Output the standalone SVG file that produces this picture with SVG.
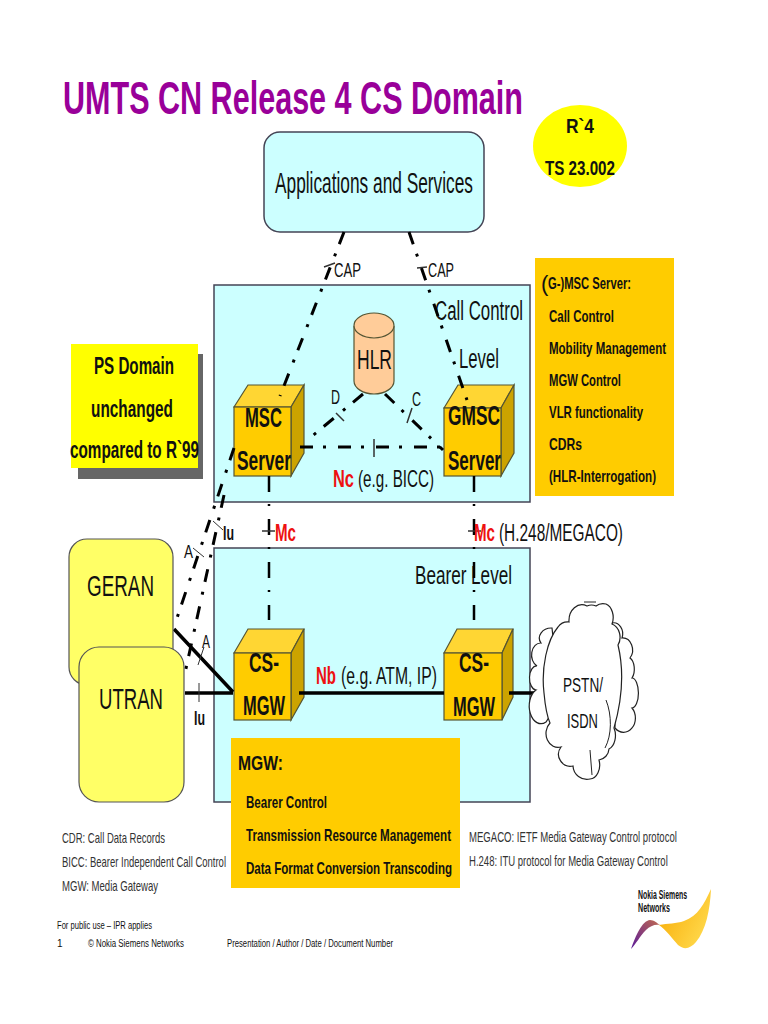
<svg xmlns="http://www.w3.org/2000/svg" width="768" height="1024" viewBox="0 0 768 1024">
<style>
text{font-family:"Liberation Sans",Arial,sans-serif;fill:#111;}
.b{font-weight:bold}
.box{fill:#ccffff;stroke:#445;stroke-width:1.5}
.front{fill:#ffcc00;stroke:#553;stroke-width:1.2}
.top{fill:#ffd633;stroke:#553;stroke-width:1.2}
.side{fill:#cca300;stroke:#553;stroke-width:1.2}
.ran{fill:#ffff66;stroke:#555;stroke-width:1.2}
.dd{fill:none;stroke:#000;stroke-width:3;stroke-dasharray:13 10 3 12}
.mc{fill:none;stroke:#000;stroke-width:2.500;stroke-dasharray:16 12 2 13}
.solid{fill:none;stroke:#000;stroke-width:3.500}
.tick{fill:none;stroke:#333;stroke-width:1}
.cloud{fill:#fff;stroke:#222;stroke-width:1.200}
.g{fill:#333}
.r{fill:#ee1111;font-weight:bold}
</style>
<defs>
<linearGradient id="w1" x1="0" y1="1" x2="1" y2="0"><stop offset="0" stop-color="#5a1a9a"/><stop offset="1" stop-color="#c06a50"/></linearGradient>
<linearGradient id="w2" x1="0" y1="0" x2="1" y2="0.6"><stop offset="0" stop-color="#f7a800"/><stop offset="1" stop-color="#ffd84a"/></linearGradient>
</defs>
<text class="b" x="63" y="114" font-size="46" textLength="460" lengthAdjust="spacingAndGlyphs" style="fill:#990099">UMTS CN Release 4 CS Domain</text>
<g id="level-call"><rect class="box" x="214" y="285" width="316" height="217"/>
<text x="435" y="320" font-size="27" textLength="88" lengthAdjust="spacingAndGlyphs">Call Control</text>
<text x="459" y="368" font-size="27" textLength="40" lengthAdjust="spacingAndGlyphs">Level</text></g>
<g id="level-bearer"><rect class="box" x="214" y="548" width="316" height="254"/>
<text x="415" y="584" font-size="26" textLength="97" lengthAdjust="spacingAndGlyphs">Bearer Level</text></g>
<g id="apps"><rect class="box" x="264" y="132" width="220" height="100" rx="16"/>
<text x="275" y="193" font-size="30" textLength="198" lengthAdjust="spacingAndGlyphs">Applications and Services</text></g>
<g id="release"><ellipse cx="580" cy="146" rx="47" ry="41" fill="#ffff00"/>
<text class="b" x="566" y="133" font-size="21" textLength="28" lengthAdjust="spacingAndGlyphs">R`4</text>
<text class="b" x="545" y="175" font-size="21" textLength="70" lengthAdjust="spacingAndGlyphs">TS 23.002</text></g>
<g id="msc-info"><rect x="535" y="258" width="139" height="238" fill="#ffcc00"/>
<text x="541" y="291" font-size="22">(</text>
<text class="b" x="548" y="289" font-size="17" textLength="83" lengthAdjust="spacingAndGlyphs">G-)MSC Server:</text>
<g font-size="17">
<text class="b" x="549" y="322" textLength="65" lengthAdjust="spacingAndGlyphs">Call Control</text>
<text class="b" x="549" y="354" textLength="117" lengthAdjust="spacingAndGlyphs">Mobility Management</text>
<text class="b" x="549" y="386" textLength="72" lengthAdjust="spacingAndGlyphs">MGW Control</text>
<text class="b" x="549" y="418" textLength="94" lengthAdjust="spacingAndGlyphs">VLR functionality</text>
<text class="b" x="549" y="450" textLength="33" lengthAdjust="spacingAndGlyphs">CDRs</text>
<text class="b" x="549" y="482" textLength="107" lengthAdjust="spacingAndGlyphs">(HLR-Interrogation)</text></g></g>
<g id="ps-domain"><rect x="78" y="354" width="125" height="125" fill="#666"/><rect x="71" y="344" width="127" height="124" fill="#ffff00"/>
<g font-size="23">
<text class="b" x="94" y="374" textLength="80" lengthAdjust="spacingAndGlyphs">PS Domain</text>
<text class="b" x="91" y="417" textLength="82" lengthAdjust="spacingAndGlyphs">unchanged</text>
<text class="b" x="70" y="458" textLength="129" lengthAdjust="spacingAndGlyphs">compared to R`99</text></g></g>
<g id="hlr"><path d="M354 326V381C354 388 363 394 374 394S394 388 394 381V326" fill="#ffcc99" stroke="#553" stroke-width="1.2"/>
<ellipse cx="374" cy="325.500" rx="20" ry="12.500" fill="#ffcc99" stroke="#553" stroke-width="1.2"/>
<text x="357" y="369" font-size="28" textLength="35" lengthAdjust="spacingAndGlyphs">HLR</text></g>
<g id="msc"><path class="top" d="M234 407L248 385H304L291 407Z"/><path class="side" d="M291 407L304 385V453L291 476Z"/><rect class="front" x="234" y="407" width="57" height="69"/></g>
<g id="gmsc"><path class="top" d="M444 408L458 385H514L501 408Z"/><path class="side" d="M501 408L514 385V453L501 476Z"/><rect class="front" x="444" y="408" width="57" height="68"/></g>
<g id="mgw1"><path class="top" d="M234 653L248 629H304L291 653Z"/><path class="side" d="M291 653L304 629V697L291 720Z"/><rect class="front" x="234" y="653" width="57" height="67"/></g>
<g id="mgw2"><path class="top" d="M444 653L457 629H513L502 653Z"/><path class="side" d="M502 653L513 629V697L502 720Z"/><rect class="front" x="444" y="653" width="58" height="67"/></g>
<g id="connectors">
<path class="dd" d="M344 232L280 396"/>
<path class="dd" d="M409 232L467 400"/>
<path class="dd" d="M363 394L305 442"/>
<path class="dd" d="M385 394L443 450"/>
<path class="dd" d="M300 447H443"/>
<path class="mc" d="M269 476V620"/>
<path class="mc" d="M474 476V620"/>
<path class="dd" d="M234 448L177 618"/>
<path class="dd" d="M224 495L185 673"/>
<path class="solid" d="M174 629L233 692M185 693H233M299 693H444M509 693H544"/>
<path class="tick" style="stroke-width:1.500" d="M324 267L335 263M417 268L427 267M336 413L344 421M407 423L412 408M374 439V457M262 531H275M468 531H481"/>
<path class="tick" d="M213 521L223 530M193 548L204 557M198 665L204 647M199 683V702"/>
</g>
<g id="geran"><rect class="ran" x="69" y="539" width="104" height="146" rx="18"/>
<text x="87" y="596" font-size="30" textLength="67" lengthAdjust="spacingAndGlyphs">GERAN</text></g>
<g id="utran"><rect class="ran" x="79" y="647" width="105" height="155" rx="20"/>
<text x="99" y="709" font-size="30" textLength="64" lengthAdjust="spacingAndGlyphs">UTRAN</text></g>
<g id="pstn">
<path class="cloud" d="M612 623A9 11 0 0 1 622 638A10 12 0 0 1 630 658A7 12 0 0 1 632 678A6 14 0 0 1 632 708A10 12 0 0 1 615 728Z"/>
<path class="cloud" d="M552 628A12 10 0 0 0 541 643A9 12 0 0 0 537 666A7 12 0 0 0 536 690A8 12 0 0 0 546 722L560 700Z"/>
<path class="cloud" d="M544 693C541 668 547 640 558 627A12 12 0 0 1 569 622A13 16 0 0 1 587 606A10 9 0 0 1 596 606A10 8 0 0 1 606 604A10 14 0 0 1 612 624A12 14 0 0 1 618 645C624 670 622 700 614 728A9 14 0 0 1 609 749A12 12 0 0 1 599 760A10 14 0 0 1 590 779A14 14 0 0 1 573 766A12 12 0 0 1 561 747A12 14 0 0 1 550 723C546 714 545 704 544 693Z"/>
<path d="M584 602H596M606 700C612 715 612 735 605 748M590 750L592 775" fill="none" stroke="#222" stroke-width="1"/>
<text x="563" y="692" font-size="20" textLength="40" lengthAdjust="spacingAndGlyphs">PSTN/</text>
<text x="567" y="728" font-size="20" textLength="31" lengthAdjust="spacingAndGlyphs">ISDN</text></g>
<g id="mgw-info"><rect x="231" y="738" width="229" height="150" fill="#ffcc00"/>
<text class="b" x="238" y="770" font-size="21" textLength="45" lengthAdjust="spacingAndGlyphs">MGW:</text>
<g font-size="17">
<text class="b" x="246" y="808" textLength="81" lengthAdjust="spacingAndGlyphs">Bearer Control</text>
<text class="b" x="246" y="841" textLength="205" lengthAdjust="spacingAndGlyphs">Transmission Resource Management</text>
<text class="b" x="246" y="874" textLength="206" lengthAdjust="spacingAndGlyphs">Data Format Conversion Transcoding</text></g></g>
<g id="labels">
<text class="b" x="245" y="427" font-size="27" textLength="37" lengthAdjust="spacingAndGlyphs">MSC</text>
<text class="b" x="237" y="470" font-size="27" textLength="54" lengthAdjust="spacingAndGlyphs">Server</text>
<text class="b" x="448" y="425" font-size="27" textLength="52" lengthAdjust="spacingAndGlyphs">GMSC</text>
<text class="b" x="448" y="470" font-size="27" textLength="53" lengthAdjust="spacingAndGlyphs">Server</text>
<text class="b" x="249" y="672" font-size="27" textLength="30" lengthAdjust="spacingAndGlyphs">CS-</text>
<text class="b" x="243" y="715" font-size="27" textLength="42" lengthAdjust="spacingAndGlyphs">MGW</text>
<text class="b" x="459" y="672" font-size="27" textLength="30" lengthAdjust="spacingAndGlyphs">CS-</text>
<text class="b" x="453" y="716" font-size="27" textLength="42" lengthAdjust="spacingAndGlyphs">MGW</text>
<text x="334" y="277" font-size="20" textLength="27" lengthAdjust="spacingAndGlyphs">CAP</text>
<text x="428" y="277" font-size="20" textLength="26" lengthAdjust="spacingAndGlyphs">CAP</text>
<text x="331" y="404" font-size="20" textLength="9" lengthAdjust="spacingAndGlyphs">D</text>
<text x="412" y="406" font-size="20" textLength="9" lengthAdjust="spacingAndGlyphs">C</text>
<text class="r" x="333" y="487" font-size="24" textLength="21" lengthAdjust="spacingAndGlyphs">Nc</text>
<text x="358" y="487" font-size="24" textLength="76" lengthAdjust="spacingAndGlyphs">(e.g. BICC)</text>
<text class="b" x="223" y="540" font-size="20" textLength="11" lengthAdjust="spacingAndGlyphs">Iu</text>
<text x="184" y="558" font-size="18" textLength="9" lengthAdjust="spacingAndGlyphs">A</text>
<text x="202" y="648" font-size="18" textLength="8" lengthAdjust="spacingAndGlyphs">A</text>
<text class="b" x="194" y="725" font-size="20" textLength="11" lengthAdjust="spacingAndGlyphs">Iu</text>
<text class="r" x="275" y="541" font-size="23" textLength="21" lengthAdjust="spacingAndGlyphs">Mc</text>
<text class="r" x="474" y="541" font-size="23" textLength="21" lengthAdjust="spacingAndGlyphs">Mc</text>
<text x="499" y="541" font-size="23" textLength="124" lengthAdjust="spacingAndGlyphs">(H.248/MEGACO)</text>
<text class="r" x="316" y="684" font-size="23" textLength="20" lengthAdjust="spacingAndGlyphs">Nb</text>
<text x="341" y="684" font-size="23" textLength="96" lengthAdjust="spacingAndGlyphs">(e.g. ATM, IP)</text>
</g>
<g id="notes" font-size="15">
<text class="g" x="62" y="843" textLength="103" lengthAdjust="spacingAndGlyphs">CDR: Call Data Records</text>
<text class="g" x="62" y="867" textLength="164" lengthAdjust="spacingAndGlyphs">BICC: Bearer Independent Call Control</text>
<text class="g" x="62" y="891" textLength="96" lengthAdjust="spacingAndGlyphs">MGW: Media Gateway</text>
<text class="g" transform="translate(469 842) scale(.7 1)" textLength="297" lengthAdjust="spacingAndGlyphs">MEGACO: IETF Media Gateway Control protocol</text>
<text class="g" transform="translate(469 866) scale(.7 1)" textLength="284" lengthAdjust="spacingAndGlyphs">H.248: ITU protocol for Media Gateway Control</text>
</g>
<g id="footer" font-size="10">
<text x="57" y="929" textLength="95" lengthAdjust="spacingAndGlyphs">For public use – IPR applies</text>
<text x="57" y="947">1</text>
<text x="88" y="947" textLength="96" lengthAdjust="spacingAndGlyphs">© Nokia Siemens Networks</text>
<text x="227" y="947" textLength="166" lengthAdjust="spacingAndGlyphs">Presentation / Author / Date / Document Number</text>
</g>
<g id="logo">
<path d="M631 949C636 935 642 921 650 920C654 920 657 923 660 925C655 924 650 926 646 930C640 936 636 944 631 949Z" fill="url(#w1)"/>
<path d="M659 925C668 923 676 924 684 921C698 916 704 904 711 889C710 910 706 930 696 942C690 949 684 950 678 945C672 938 666 930 659 925Z" fill="url(#w2)"/>
<text class="b" x="638" y="899" font-size="12" textLength="49" lengthAdjust="spacingAndGlyphs">Nokia Siemens</text>
<text class="b" x="638" y="912" font-size="12" textLength="32" lengthAdjust="spacingAndGlyphs">Networks</text>
</g>
</svg>
